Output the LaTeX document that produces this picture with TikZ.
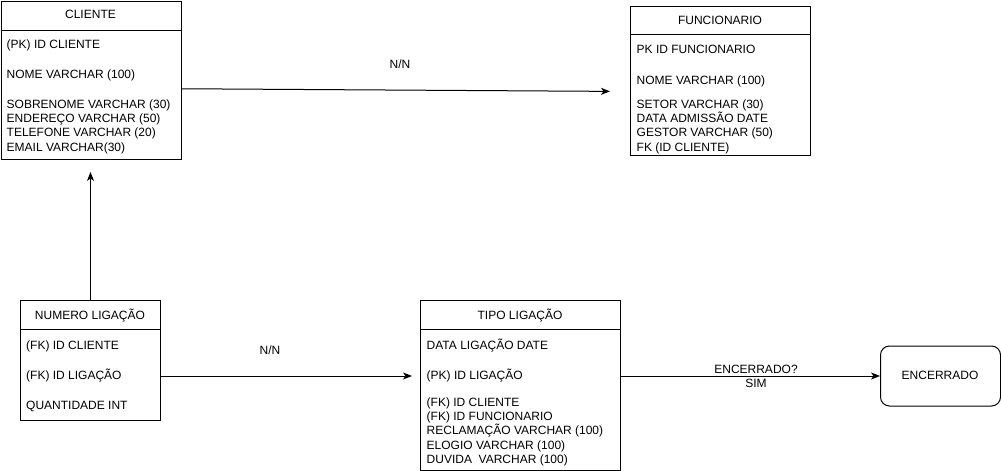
\documentclass[tikz,border=0pt]{standalone}
\usepackage{fontspec}
\setmainfont{Liberation Sans}
\usetikzlibrary{arrows.meta}
\tikzset{
  tbl/.style={draw=black, line width=1pt, fill=white, anchor=north west, inner sep=0pt},
  rowtxt/.style={anchor=base west, inner sep=0pt, font=\fontsize{12}{14}\selectfont},
  ctxt/.style={anchor=base, inner sep=0pt, font=\fontsize{12}{14}\selectfont},
  hline/.style={line width=1pt},
  conn/.style={line width=1pt, -{Stealth[length=9pt, width=7pt, inset=2.5pt]}},
}
\begin{document}
\begin{tikzpicture}[x=1pt, y=-1pt]
\useasboundingbox (0,0) rectangle (1001,471);

% CLIENTE
\node[tbl, minimum width=180pt, minimum height=158.5pt] (cli) at (0.5,0.5) {};
\draw[hline] (0.5,30) -- (180.5,30);
\node[ctxt] (clit) at (90.5,19) {CLIENTE};
\node[rowtxt] (cli1) at (6.5,48) {(PK) ID CLIENTE};
\node[rowtxt] (cli2) at (6.5,78.5) {NOME VARCHAR (100)};
\node[rowtxt] (cli3) at (6.5,108) {SOBRENOME VARCHAR (30)};
\node[rowtxt] (cli4) at (6.5,122.3) {ENDEREÇO VARCHAR (50)};
\node[rowtxt] (cli5) at (6.5,136.6) {TELEFONE VARCHAR (20)};
\node[rowtxt] (cli6) at (6.5,151) {EMAIL VARCHAR(30)};

% FUNCIONARIO
\node[tbl, minimum width=180pt, minimum height=149pt] (fun) at (630,6) {};
\draw[hline] (630,34) -- (810,34);
\node[ctxt] (funt) at (720,24) {FUNCIONARIO};
\node[rowtxt] (fun1) at (636.5,53.5) {PK ID FUNCIONARIO};
\node[rowtxt] (fun2) at (636.5,84) {NOME VARCHAR (100)};
\node[rowtxt] (fun3) at (636.5,108.5) {SETOR VARCHAR (30)};
\node[rowtxt] (fun4) at (636.5,122.5) {DATA ADMISSÃO DATE};
\node[rowtxt] (fun5) at (636.5,136.5) {GESTOR VARCHAR (50)};
\node[rowtxt] (fun6) at (636.5,151) {FK (ID CLIENTE)};

% NUMERO LIGACAO
\node[tbl, minimum width=140pt, minimum height=120pt] (num) at (20,300) {};
\draw[hline] (20,329.5) -- (160,329.5);
\node[ctxt] (numt) at (90,319.5) {NUMERO LIGAÇÃO};
\node[rowtxt] (num1) at (26,349.5) {(FK) ID CLIENTE};
\node[rowtxt] (num2) at (26,379.5) {(FK) ID LIGAÇÃO};
\node[rowtxt] (num3) at (26,409.5) {QUANTIDADE INT};

% TIPO LIGACAO
\node[tbl, minimum width=200pt, minimum height=170pt] (tip) at (420,300) {};
\draw[hline] (420,329.5) -- (620,329.5);
\node[ctxt] (tipt) at (520,319.5) {TIPO LIGAÇÃO};
\node[rowtxt] (tip1) at (426.5,349.5) {DATA LIGAÇÃO DATE};
\node[rowtxt] (tip2) at (426.5,379.5) {(PK) ID LIGAÇÃO};
\node[rowtxt] (tip3) at (426.5,406) {(FK) ID CLIENTE};
\node[rowtxt] (tip4) at (426.5,420.4) {(FK) ID FUNCIONARIO};
\node[rowtxt] (tip5) at (426.5,434.8) {RECLAMAÇÃO VARCHAR (100)};
\node[rowtxt] (tip6) at (426.5,449.2) {ELOGIO VARCHAR (100)};
\node[rowtxt] (tip7) at (426.5,463.6) {DUVIDA\hspace{3.3pt} VARCHAR (100)};

% ENCERRADO
\node[draw=black, line width=1pt, rounded corners=9pt, minimum width=120pt, minimum height=60pt, anchor=north west, inner sep=0pt] (enc) at (880,345.5) {};
\node[ctxt] (enct) at (940,379.5) {ENCERRADO};

% connectors
\draw[conn, shorten >=20pt] ([yshift=-8.5pt]cli.east) -- ([yshift=-10.5pt]fun.west);
\node[ctxt] (lbl1) at (400,68.5) {N/N};

\draw[conn, shorten >=12pt] (num.north) -- (num.north |- cli.south);

\coordinate (nume) at ([yshift=-15.5pt]num.east);
\draw[conn, shorten >=8pt] (nume) -- (nume -| tip.west);
\node[ctxt] (lbl2) at (270,354.5) {N/N};

\draw[conn] (tip.east |- enc.west) -- (enc.west);
\node[ctxt] (lbl3) at (756,373) {ENCERRADO?};
\node[ctxt] (lbl4) at (756,387) {SIM};
\end{tikzpicture}
\end{document}
